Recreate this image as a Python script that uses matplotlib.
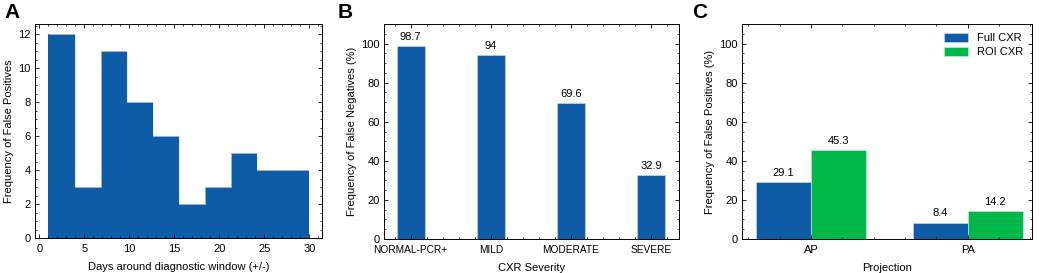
import numpy as np
import matplotlib as mpl
mpl.use('Agg')
import matplotlib.pyplot as plt
from matplotlib.ticker import MultipleLocator

plt.rcParams['font.family'] = ['Liberation Sans', 'DejaVu Sans']
plt.rcParams['font.size'] = 8

# panel A: histogram counts
bin_edges = [1.0, 3.9, 6.8, 9.7, 12.6, 15.5, 18.4, 21.3, 24.2, 27.1, 30.0]
fp_counts = [12, 3, 11, 8, 6, 2, 3, 5, 4, 4]

# panel B
severity = ['NORMAL-PCR+', 'MILD', 'MODERATE', 'SEVERE']
fn_rate = [98.7, 94, 69.6, 32.9]

# panel C
projection = ['AP', 'PA']
full_cxr = [29.1, 8.4]
roi_cxr = [45.3, 14.2]

blue = '#0E5BA6'
green = '#00B84A'

fig = plt.figure(figsize=(10.4, 2.73), dpi=100)
axA = fig.add_axes([35/1040, 35/273, 287/1040, 214/273])
axB = fig.add_axes([384/1040, 34/273, 295/1040, 215/273])
axC = fig.add_axes([742/1040, 34/273, 290/1040, 215/273])


def style(ax):
    ax.tick_params(which='both', direction='in', top=True, right=True,
                   labelsize=8)
    ax.tick_params(axis='x', pad=4)
    ax.tick_params(axis='y', pad=3)
    ax.tick_params(which='major', length=3, width=0.6)
    ax.tick_params(which='minor', length=1.5, width=0.5)
    for s in ax.spines.values():
        s.set_linewidth(0.7)


# A
edges = np.array(bin_edges)
axA.stairs(fp_counts, edges, fill=True, color=blue)
axA.stairs(fp_counts, edges, baseline=None, color='#cfe0f0', linewidth=0.5)
axA.set_xlim(-0.5, 31.4)
axA.set_ylim(0, 12.6)
axA.xaxis.set_major_locator(MultipleLocator(5))
axA.xaxis.set_minor_locator(MultipleLocator(1))
axA.yaxis.set_major_locator(MultipleLocator(2))
axA.yaxis.set_minor_locator(MultipleLocator(0.5))
axA.set_xlabel('Days around diagnostic window (+/-)', labelpad=6)
axA.set_ylabel('Frequency of False Positives', labelpad=3)
style(axA)

# B
xb = np.arange(len(severity))
barsB = axB.bar(xb, fn_rate, width=0.35, color=blue, edgecolor='#cfe0f0', linewidth=0.4)
axB.bar_label(barsB, labels=[f'{v:g}' for v in fn_rate], padding=3, fontsize=8)
axB.set_xlim(-0.333, 3.35)
axB.set_ylim(0, 110)
axB.set_xticks(xb)
axB.set_xticklabels(severity, fontsize=7.3)
axB.xaxis.set_minor_locator(MultipleLocator(0.2))
axB.yaxis.set_major_locator(MultipleLocator(20))
axB.yaxis.set_minor_locator(MultipleLocator(5))
axB.set_xlabel('CXR Severity', labelpad=6)
axB.set_ylabel('Frequency of False Negatives (%)', labelpad=3)
style(axB)
for t in axB.get_xticklabels():
    t.set_fontsize(7.3)

# C
xc = np.arange(len(projection))
w = 0.35
b1 = axC.bar(xc - w/2, full_cxr, width=w, color=blue, edgecolor='#cfe0f0',
             linewidth=0.4, label='Full CXR')
b2 = axC.bar(xc + w/2, roi_cxr, width=w, color=green, edgecolor='#d0f0d8',
             linewidth=0.4, label='ROI CXR')
axC.bar_label(b1, labels=[f'{v:g}' for v in full_cxr], padding=3, fontsize=8)
axC.bar_label(b2, labels=[f'{v:g}' for v in roi_cxr], padding=3, fontsize=8)
axC.set_xlim(-0.44, 1.41)
axC.set_ylim(0, 110)
axC.set_xticks(xc)
axC.set_xticklabels(projection)
axC.xaxis.set_minor_locator(MultipleLocator(0.2))
axC.yaxis.set_major_locator(MultipleLocator(20))
axC.yaxis.set_minor_locator(MultipleLocator(5))
axC.set_xlabel('Projection', labelpad=6)
axC.set_ylabel('Frequency of False Positives (%)', labelpad=3)
axC.legend(loc='upper right', frameon=False, fontsize=8, handlelength=2.2,
           handleheight=0.9, labelspacing=0.3, borderaxespad=0.4,
           handletextpad=0.8)
style(axC)

for lab, x in [('A', 4), ('B', 338), ('C', 692)]:
    fig.text(x/1040, 1 - 3/273, lab, fontsize=15, fontweight='bold', va='top', ha='left')

fig.savefig('out.png', dpi=100)
